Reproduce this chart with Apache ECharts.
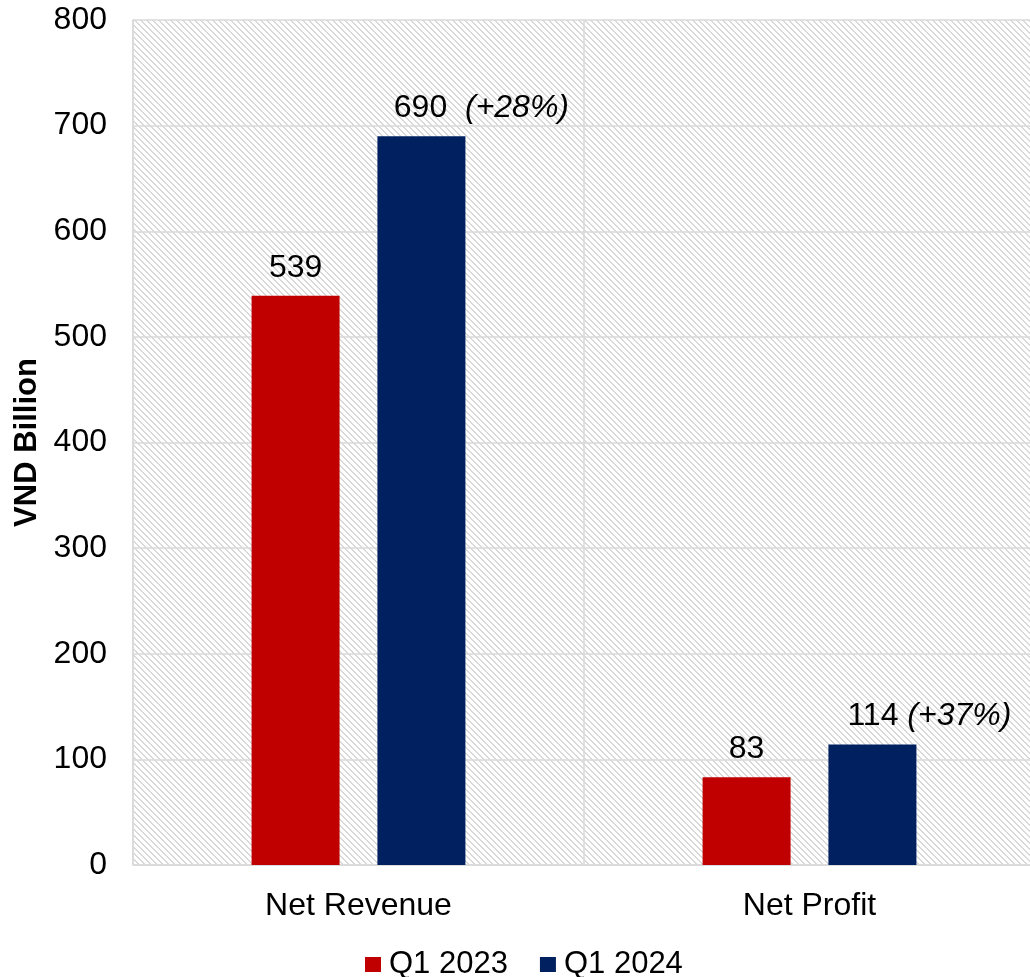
<!DOCTYPE html>
<html>
<head>
<meta charset="utf-8">
<script src="https://cdn.jsdelivr.net/npm/echarts@6/dist/echarts.min.js"></script>
<style>
  html, body { margin: 0; padding: 0; background: #ffffff; overflow: hidden; }
  #chart { width: 1036px; height: 977px; }
</style>
</head>
<body>
<div id="chart"></div>
<script>
const categories = ['Net Revenue', 'Net Profit'];
const seriesNames = ['Q1 2023', 'Q1 2024'];
const q1_2023 = [539, 83];
const q1_2024 = [690, 114];
const growthLabels = ['(+28%)', '(+37%)'];
const growthSpacer = ['  ', ' '];
const yTicks = { min: 0, max: 800, interval: 100 };

// light diagonal hatch used by the plot area ("\" stripes)
const makeHatch = () => {
  const c = document.createElement('canvas');
  c.width = 6; c.height = 6;
  const ctx = c.getContext('2d');
  ctx.fillStyle = '#d9d9d9';
  for (let y = 0; y < 6; y++) {
    for (let x = 0; x < 6; x++) {
      if ((x - y + 6) % 6 < 2) ctx.fillRect(x, y, 1, 1);
    }
  }
  return c;
};

const FONT = 'Liberation Sans, Arial, sans-serif';
const chart = echarts.init(document.getElementById('chart'));

chart.setOption({
  animation: false,
  textStyle: { fontFamily: FONT },
  grid: {
    left: 133, right: 1, top: 20, bottom: 112,
    show: true,
    borderWidth: 0,
    backgroundColor: { image: makeHatch(), repeat: 'repeat' }
  },
  legend: {
    data: seriesNames,
    left: 360,
    bottom: -8,
    icon: 'rect',
    itemWidth: 16,
    itemHeight: 15,
    itemGap: 32,
    textStyle: { fontSize: 31, color: '#000', fontFamily: FONT, padding: [0, 0, 0, 3] }
  },
  xAxis: {
    type: 'category',
    data: categories,
    axisLine: { lineStyle: { color: '#d9d9d9', width: 1.5 } },
    axisTick: { show: false },
    axisLabel: { fontSize: 32, color: '#000', margin: 25, fontFamily: FONT },
    splitLine: { show: true, lineStyle: { color: '#d9d9d9', width: 1.5 } }
  },
  yAxis: {
    type: 'value',
    min: yTicks.min,
    max: yTicks.max,
    interval: yTicks.interval,
    name: 'VND Billion',
    nameLocation: 'middle',
    nameGap: 90,
    nameTextStyle: { fontSize: 31, fontWeight: 'bold', color: '#000', fontFamily: FONT },
    axisLine: { show: true, lineStyle: { color: '#d9d9d9', width: 1.5 } },
    axisTick: { show: false },
    axisLabel: { fontSize: 32, color: '#000', margin: 26, fontFamily: FONT },
    splitLine: { lineStyle: { color: '#d9d9d9', width: 1.5 } }
  },
  series: [
    {
      name: seriesNames[0],
      type: 'bar',
      data: q1_2023,
      barWidth: 88,
      barGap: '43%',
      itemStyle: { color: '#c00000' },
      label: {
        show: true, position: 'top', distance: 12,
        fontSize: 32, color: '#000', fontFamily: FONT
      }
    },
    {
      name: seriesNames[1],
      type: 'bar',
      data: q1_2024.map((v, i) => ({
        value: v,
        label: { offset: [i === 0 ? 60 : 57, 0] }
      })),
      barWidth: 88,
      itemStyle: { color: '#002060' },
      label: {
        show: true, position: 'top', distance: 12,
        fontSize: 32, color: '#000', fontFamily: FONT,
        formatter: p => `{n|${p.value}}{g|${growthSpacer[p.dataIndex]}${growthLabels[p.dataIndex]}}`,
        rich: {
          n: { fontSize: 32, color: '#000', fontFamily: FONT },
          g: { fontSize: 32, color: '#000', fontStyle: 'italic', fontFamily: FONT }
        }
      }
    }
  ]
});
</script>
</body>
</html>
